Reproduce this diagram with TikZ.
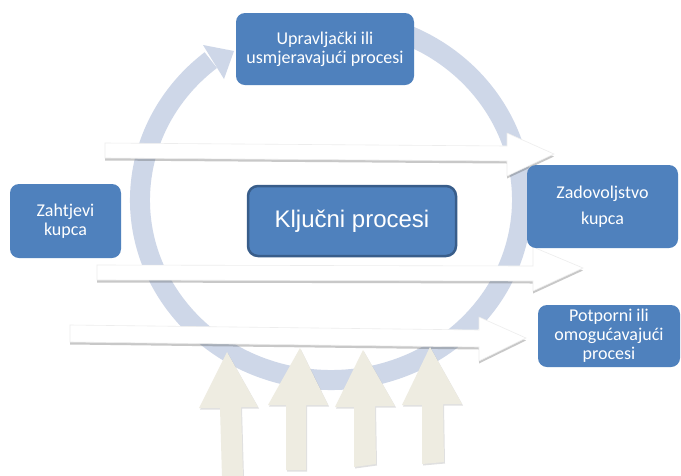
\documentclass[tikz,border=0pt]{standalone}
\usepackage{fontspec}
\newfontfamily\carlito{Carlito}
\newfontfamily\arialf{Liberation Sans}
\usetikzlibrary{shadows}
\definecolor{boxblue}{HTML}{4F81BD}
\definecolor{boxedge}{HTML}{385D8A}
\definecolor{ringc}{HTML}{CED7E8}
\definecolor{beige}{HTML}{EEECE1}
\begin{document}
\begin{tikzpicture}[x=1pt,y=-1pt,
  bluebox/.style={fill=boxblue, rounded corners=9pt, text=white, align=center, inner sep=0pt,
    font=\carlito\fontsize{18}{19}\selectfont},
  keybox/.style={fill=boxblue, draw=boxedge, line width=2.5pt, rounded corners=10pt, text=white,
    inner sep=0pt, font=\arialf\fontsize{24}{28}\selectfont},
  ring/.style={draw=ringc, line width=20pt},
  ringhead/.style={fill=ringc},
  whitearrow/.style={fill=white, draw=black!7, line width=0.6pt,
    drop shadow={shadow xshift=0pt, shadow yshift=-2.5pt, opacity=0.3, fill=black!70}},
  beigearrow/.style={fill=beige,
    drop shadow={shadow xshift=1pt, shadow yshift=-1.5pt, opacity=0.2, fill=black!60}}
]
\useasboundingbox[fill=white] (0,0) rectangle (681,475);

% cycle ring
\coordinate (rc) at (331,200);
\draw[ring] (rc) ++(-80:191 and 180) arc[start angle=-80, end angle=231, x radius=191, y radius=180];
\fill[ringhead] (203,45) -- (234,51) -- (224,79) -- cycle;

% white horizontal arrows
\draw[whitearrow] (105,143) -- (507,146) -- (507,133) -- (554,154) -- (507,176) -- (507,161) -- (105,158) -- cycle;
\draw[whitearrow] (97,265) -- (533,266) -- (533,247) -- (583,268) -- (533,291) -- (533,281) -- (97,280) -- cycle;
\draw[whitearrow] (70,325) -- (479,330) -- (479,317) -- (526,338) -- (479,361) -- (479,347) -- (70,342) -- cycle;

% beige upward arrows
\fill[beigearrow] (222,477) -- (220,408) -- (199,408) -- (227,352) -- (258,407) -- (241,407) -- (243,477) -- cycle;
\fill[beigearrow] (286,470) -- (286,405) -- (268,405) -- (300,348) -- (328,405) -- (306,405) -- (306,470) -- cycle;
\fill[beigearrow] (354,467) -- (354,407) -- (335,407) -- (363,350) -- (395,406) -- (375,406) -- (376,464) -- cycle;
\fill[beigearrow] (422,464) -- (422,405) -- (402,405) -- (430,347) -- (462,404) -- (443,404) -- (444,462) -- cycle;

% boxes
\node[bluebox, minimum width=178pt, minimum height=72pt] (upr) at (325,49) {Upravljački ili\\usmjeravajući procesi};
\node[bluebox, minimum width=111pt, minimum height=74pt] (zah) at (65.5,221) {Zahtjevi\\kupca};
\node[keybox, minimum width=208pt, minimum height=70pt] (klj) at (352,221) {Ključni procesi};
\node[bluebox, minimum width=151pt, minimum height=83pt, font=\carlito\fontsize{18}{26}\selectfont] (zad) at (602.5,206.5) {Zadovoljstvo\\kupca};
\node[bluebox, minimum width=142pt, minimum height=62pt] (pot) at (609,336) {Potporni ili\\omogućavajući\\procesi};
\end{tikzpicture}
\end{document}
